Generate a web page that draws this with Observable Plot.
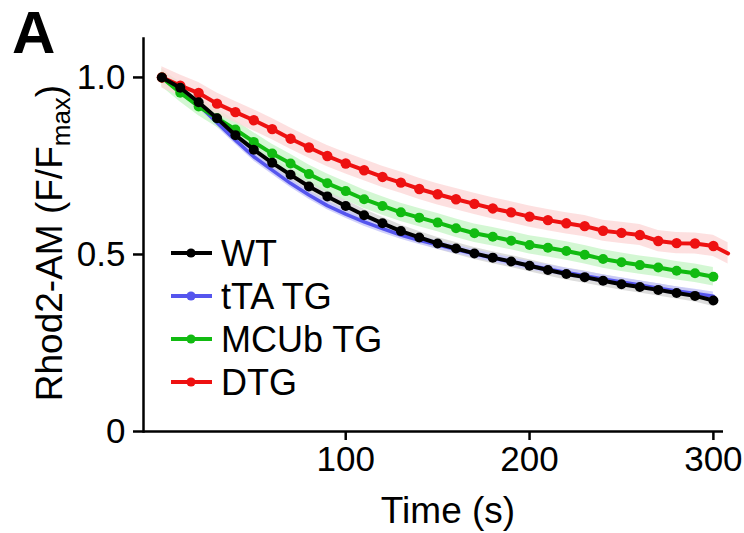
<!DOCTYPE html>
<html><head><meta charset="utf-8">
<script src="https://cdn.jsdelivr.net/npm/d3@7"></script>
<script src="https://cdn.jsdelivr.net/npm/@observablehq/plot@0.6"></script>
<style>
body{margin:0;background:#fff;}
#chart{position:relative;width:744px;height:533px;}
</style>
</head><body><div id="chart"></div>
<script>
// Time points (s)
const times = [0,10,20,30,40,50,60,70,80,90,100,110,120,130,140,150,160,170,180,190,200,210,220,230,240,250,260,270,280,290,300];
// Series values (F/Fmax)
const wtValues   = [1.0,0.971,0.930,0.885,0.837,0.796,0.759,0.725,0.692,0.664,0.637,0.611,0.588,0.566,0.548,0.531,0.517,0.503,0.491,0.480,0.468,0.456,0.445,0.436,0.426,0.416,0.408,0.400,0.391,0.383,0.370];
const ttaValues  = [1.0,0.968,0.922,0.872,0.823,0.776,0.738,0.701,0.668,0.638,0.614,0.592,0.573,0.555,0.540,0.527,0.514,0.502,0.490,0.479,0.469,0.459,0.449,0.440,0.431,0.422,0.414,0.405,0.397,0.390,0.382];
const mcubValues = [1.0,0.957,0.918,0.885,0.853,0.818,0.785,0.757,0.727,0.701,0.679,0.656,0.637,0.619,0.604,0.590,0.574,0.560,0.550,0.539,0.527,0.519,0.510,0.499,0.487,0.478,0.470,0.463,0.454,0.447,0.437];
const dtgValues  = [1.0,0.977,0.956,0.926,0.902,0.879,0.854,0.827,0.802,0.778,0.757,0.738,0.719,0.703,0.685,0.670,0.656,0.643,0.630,0.619,0.607,0.597,0.588,0.580,0.567,0.561,0.555,0.538,0.532,0.531,0.524];
// DTG trace continues past the last marker
const dtgTailTimes  = [308];
const dtgTailValues = [0.503];
// SEM half-widths
const semValues = {"WT":0.017, "tTA TG":0.012, "MCUb TG":0.026, "DTG":0.03};
// Labels
const seriesNames = ["WT","tTA TG","MCUb TG","DTG"];
const lineColors  = ["#000000","#5555ee","#11bb11","#ee1111"];
const bandColors  = ["#d4d4d4","#c4c4fa","#c8f5c8","#fdd8d8"];
const xTicks = [100,200,300];
const yTicks = [0,0.5,1];
const yTickLabels = ["0","0.5","1.0"];

const valueArrays = [wtValues, ttaValues, mcubValues, dtgValues];
const rows = [];
seriesNames.forEach((name,k)=>{
  valueArrays[k].forEach((v,i)=>rows.push({name, time:times[i], value:v, sem:semValues[name], marker:true}));
  if (name === "DTG") dtgTailTimes.forEach((t,i)=>rows.push({name, time:t, value:dtgTailValues[i], sem:semValues[name], marker:false}));
});
const bySeries = n => rows.filter(d=>d.name===n);
const color = n => lineColors[seriesNames.indexOf(n)];
const band = n => bandColors[seriesNames.indexOf(n)];

const font = "Liberation Sans, Arial, Helvetica, sans-serif";
const bandOrder = ["WT","tTA TG","MCUb TG","DTG"];
const lineOrder = ["tTA TG","MCUb TG","DTG","WT"];

const marks = [];
bandOrder.forEach(n=>{
  marks.push(Plot.areaY(bySeries(n), {x:"time", y1:d=>d.value-d.sem, y2:d=>d.value+d.sem, fill:band(n), fillOpacity:0.8, curve:"linear"}));
});
lineOrder.forEach(n=>{
  marks.push(Plot.line(bySeries(n), {x:"time", y:"value", stroke:color(n), strokeWidth: n==="tTA TG"?3.5:4}));
  if (n !== "tTA TG") marks.push(Plot.dot(bySeries(n).filter(d=>d.marker), {x:"time", y:"value", fill:color(n), r: n==="DTG"?5.2:5}));
});
marks.push(Plot.ruleY([0], {strokeWidth:2.5}));
marks.push(Plot.frame({anchor:"left", strokeWidth:2.5}));
marks.push(Plot.axisX({ticks:xTicks, tickSize:9, tickPadding:6, strokeWidth:2.5, fontSize:35, label:null}));
marks.push(Plot.axisY({ticks:yTicks, tickSize:10, tickPadding:8, strokeWidth:2.5, fontSize:35, label:null,
  tickFormat:d=>yTickLabels[yTicks.indexOf(d)]}));

const plot = Plot.plot({
  width:744, height:533,
  marginLeft:143, marginRight:21, marginTop:38, marginBottom:102,
  style:{fontFamily:font, fontSize:"35px", color:"#000", background:"#fff", overflow:"visible"},
  x:{domain:[-10,305.5]},
  y:{domain:[0,1.11]},
  marks
});
document.getElementById("chart").appendChild(plot);

const svg = d3.select(plot);
// Panel letter
svg.append("text").attr("x",12).attr("y",53).attr("text-anchor","start").attr("font-family",font).attr("font-weight","bold")
  .attr("font-size",60).attr("fill","#000").text("A");
// Y label with subscript
const yl = svg.append("text").attr("transform","translate(62,243) rotate(-90)").attr("text-anchor","middle")
  .attr("font-family",font).attr("font-size",37).attr("fill","#000");
yl.append("tspan").text("Rhod2-AM (F/F");
yl.append("tspan").attr("font-size",26).attr("dy",8).text("max");
yl.append("tspan").attr("dy",-8).text(")");
// X label
svg.append("text").attr("x",448).attr("y",523).attr("text-anchor","middle").attr("font-family",font)
  .attr("font-size",37).attr("fill","#000").text("Time (s)");
// Legend
const lg = svg.append("g").attr("font-family",font).attr("font-size",36).attr("text-anchor","start");
seriesNames.forEach((n,i)=>{
  const cy = 253 + i*43;
  const g = lg.append("g").attr("transform",`translate(0,${cy})`);
  g.append("line").attr("x1",171).attr("x2",212).attr("y1",0).attr("y2",0).attr("stroke",lineColors[i]).attr("stroke-width",4);
  g.append("circle").attr("cx",191).attr("cy",0).attr("r",4.6).attr("fill",lineColors[i]);
  g.append("text").attr("x",221).attr("y",0).attr("dy","0.36em").attr("text-anchor","start").attr("fill","#000").text(n);
});
</script>
</body></html>
